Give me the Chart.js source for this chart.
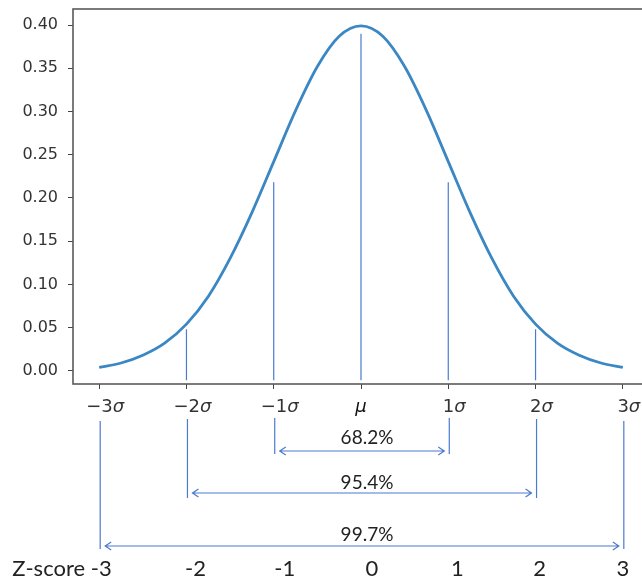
<!DOCTYPE html>
<html>
<head>
<meta charset="utf-8">
<script src="https://cdn.jsdelivr.net/npm/chart.js@4.4.0/dist/chart.umd.min.js"></script>
<style>
  html, body { margin: 0; padding: 0; background: #fff; overflow: hidden; }
  #wrap { width: 642px; height: 581px; overflow: hidden; }
</style>
</head>
<body>
<div id="wrap"><canvas id="chart" width="660" height="581"></canvas></div>
<script>
// curve
const curveX = [-3, -2.75, -2.5, -2.25, -2, -1.75, -1.5, -1.25, -1, -0.75, -0.5, -0.25, 0,
                0.25, 0.5, 0.75, 1, 1.25, 1.5, 1.75, 2, 2.25, 2.5, 2.75, 3];
const curveY = [0.004, 0.009, 0.018, 0.032, 0.054, 0.086, 0.130, 0.183, 0.242, 0.301, 0.352, 0.387, 0.399,
                0.387, 0.352, 0.301, 0.242, 0.183, 0.130, 0.086, 0.054, 0.032, 0.018, 0.009, 0.004];

const xTicks = [-3, -2, -1, 0, 1, 2, 3];
const xTickLabels = [["\u22123", "σ"], ["\u22122", "σ"], ["\u22121", "σ"], ["", "μ"], ["1", "σ"], ["2", "σ"], ["3", "σ"]];
const yTicks = [0, 0.05, 0.10, 0.15, 0.20, 0.25, 0.30, 0.35, 0.40];

// vertical markers inside the plot
const markerX = [-2, -1, 0, 1, 2];
const markerTop = [0.048, 0.218, 0.390, 0.218, 0.048];
const markerBottom = -0.011;

// brackets under the axis
const rangeSigma = [1, 2, 3];
const rangeLabels = ["68.2%", "95.4%", "99.7%"];
const zScores = [-3, -2, -1, 0, 1, 2, 3];
const zLabels = ["-3", "-2", "-1", "0", "1", "2", "3"];

const blue = "#4a7bd0";

// layout of the bracket rows, px below the plot bottom
const bracketRows = [
  { lineTop: 34, lineBottom: 70, arrowY: 67, textY: 54 },
  { lineTop: 35, lineBottom: 114, arrowY: 109, textY: 99 },
  { lineTop: 37, lineBottom: 165, arrowY: 162, textY: 151 }
];
const zRowY = 185;
const zNudge = [2, 9, 11, 11, 9, 4, 0];

function arrow(ctx, x1, x2, y) {
  ctx.beginPath();
  ctx.moveTo(x1, y);
  ctx.lineTo(x2, y);
  ctx.moveTo(x1 + 6, y - 4);
  ctx.lineTo(x1, y);
  ctx.lineTo(x1 + 6, y + 4);
  ctx.moveTo(x2 - 6, y - 4);
  ctx.lineTo(x2, y);
  ctx.lineTo(x2 - 6, y + 4);
  ctx.stroke();
}

const extras = {
  id: "extras",
  afterDraw(chart) {
    const ctx = chart.ctx;
    const a = chart.chartArea;
    const xs = chart.scales.x;
    ctx.save();

    // frame
    ctx.strokeStyle = "#5a5a5a";
    ctx.lineWidth = 1.6;
    ctx.strokeRect(a.left, a.top, a.right - a.left, a.bottom - a.top);

    // x tick labels with italic sigma / mu
    ctx.textBaseline = "middle";
    xTicks.forEach((v, i) => {
      const [num, sym] = xTickLabels[i];
      ctx.font = "18px 'DejaVu Sans'";
      const w1 = ctx.measureText(num).width;
      ctx.font = "italic 18px 'DejaVu Sans'";
      const w2 = ctx.measureText(sym).width;
      const cx = xs.getPixelForValue(v) + (num ? 6 : 0);
      const x0 = cx - (w1 + w2) / 2;
      ctx.textAlign = "left";
      ctx.font = "18px 'DejaVu Sans'";
      ctx.fillStyle = "#333";
      ctx.fillText(num, x0, a.bottom + 23);
      ctx.font = "italic 18px 'DejaVu Sans'";
      ctx.fillStyle = num ? "#333" : "#111";
      ctx.fillText(sym, x0 + w1, a.bottom + 23);
    });

    // brackets
    ctx.strokeStyle = blue;
    ctx.lineWidth = 1.2;
    ctx.fillStyle = "#222";
    ctx.textAlign = "center";
    ctx.font = "19px Lato";
    rangeSigma.forEach((s, i) => {
      const r = bracketRows[i];
      const xl = xs.getPixelForValue(-s) + 1;
      const xr = xs.getPixelForValue(s) + 1;
      ctx.beginPath();
      ctx.moveTo(xl, a.bottom + r.lineTop);
      ctx.lineTo(xl, a.bottom + r.lineBottom);
      ctx.moveTo(xr, a.bottom + r.lineTop);
      ctx.lineTo(xr, a.bottom + r.lineBottom);
      ctx.stroke();
      arrow(ctx, xl + 5, xr - 5, a.bottom + r.arrowY);
      ctx.fillText(rangeLabels[i], xs.getPixelForValue(0) + 6, a.bottom + r.textY);
    });

    // z-score row
    ctx.font = "22px Lato";
    ctx.fillStyle = "#222";
    zScores.forEach((z, i) => {
      const cx = xs.getPixelForValue(z) + zNudge[i];
      ctx.textAlign = "center";
      ctx.fillText(zLabels[i], cx, a.bottom + zRowY);
      if (i === 0) {
        const hw = ctx.measureText(zLabels[i]).width / 2;
        ctx.textAlign = "right";
        ctx.fillText("Z-score ", cx - hw, a.bottom + zRowY);
      }
    });
    ctx.restore();
  }
};

const datasets = [{
  data: curveX.map((x, i) => ({ x, y: curveY[i] })),
  borderColor: "#3a87c4",
  borderWidth: 2.8,
  pointRadius: 0,
  cubicInterpolationMode: "monotone",
  fill: false
}];
markerX.forEach((x, i) => {
  datasets.push({
    data: [{ x, y: markerBottom }, { x, y: markerTop[i] }],
    borderColor: blue,
    borderWidth: 1.2,
    pointRadius: 0
  });
});

new Chart(document.getElementById("chart"), {
  type: "line",
  data: { datasets },
  plugins: [extras],
  options: {
    responsive: false,
    animation: false,
    events: [],
    layout: { padding: { top: 9, right: 11, left: 0, bottom: 0 } },
    plugins: { legend: { display: false }, tooltip: { enabled: false } },
    scales: {
      x: {
        type: "linear",
        min: -3.3,
        max: 3.3,
        afterBuildTicks: s => { s.ticks = xTicks.map(v => ({ value: v })); },
        afterFit: s => { s.height = 197; s.paddingLeft = 0; s.paddingRight = 0; },
        ticks: { display: false },
        border: { display: false },
        grid: { display: true, drawOnChartArea: false, drawTicks: true, tickLength: 5, color: "#444", lineWidth: 1 }
      },
      y: {
        min: -0.0153,
        max: 0.4186,
        afterBuildTicks: s => { s.ticks = yTicks.map(v => ({ value: v })); },
        afterFit: s => { s.width = 73; s.paddingTop = 0; s.paddingBottom = 0; },
        ticks: {
          padding: 10,
          color: "#333",
          font: { family: "'DejaVu Sans'", size: 16 },
          callback: v => v.toFixed(2)
        },
        border: { display: false },
        grid: { display: true, drawOnChartArea: false, drawTicks: true, tickLength: 5, color: "#444", lineWidth: 1 }
      }
    }
  }
});
</script>
</body>
</html>
